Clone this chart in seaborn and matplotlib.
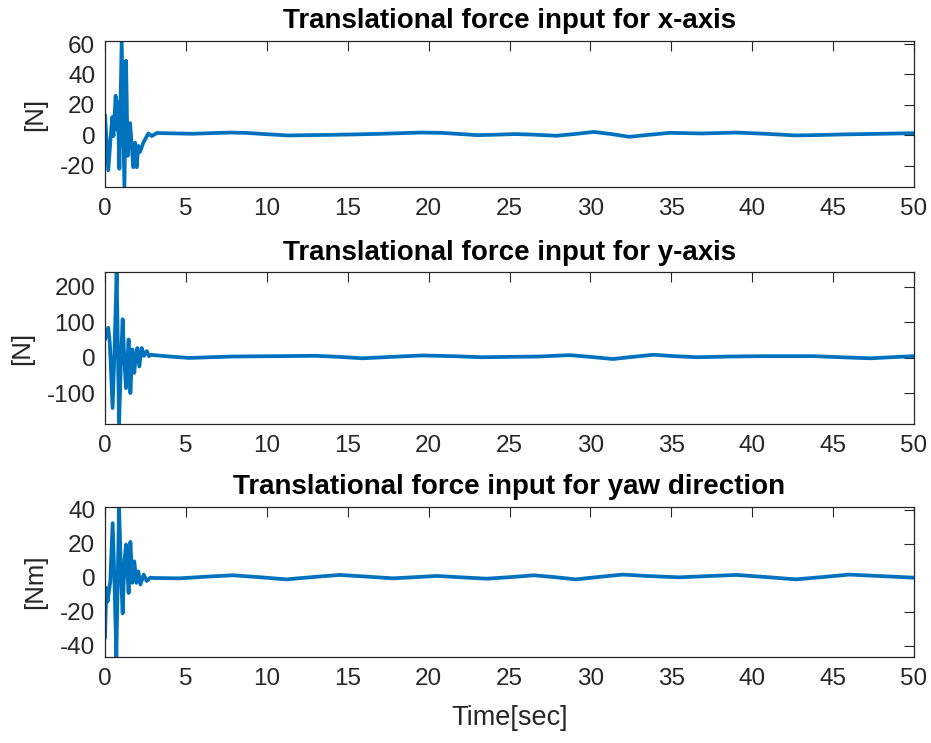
import numpy as np
import pandas as pd
import matplotlib
matplotlib.use("Agg")
import matplotlib.pyplot as plt
import seaborn as sns

# ---- data ----
tx = [0, 0.2, 0.37, 0.45, 0.52, 0.66, 0.74, 0.78, 0.89, 1.03, 1.2, 1.3, 1.4, 1.55,
      1.75, 1.86, 1.96, 2.06, 2.16, 2.37, 2.68, 2.89, 3.2, 4.0, 5.4, 6.5, 7.7, 8.7,
      10.0, 11.3, 12.5, 14.0, 15.5, 17.1, 18.3, 19.5, 20.8, 22.0, 23.0, 24.2, 25.3,
      26.3, 27.9, 29.0, 30.2, 31.3, 32.4, 33.6, 34.9, 36.0, 36.9, 38.0, 39.0, 40.8,
      42.7, 44.2, 45.8, 48.0, 50.0]
fx = [13.4, -23, 1.6, 12, -0.5, 26, 3.7, 22, -22, 62, -34, 49, -13.5, 8,
      -21, -4.8, -21, -7, -11, -4.8, 1.2, -0.5, 1.5, 1.3, 1.0, 1.4, 1.8, 1.6,
      0.7, -0.1, 0.1, 0.3, 0.6, 1.0, 1.4, 1.8, 1.6, 0.8, 0.1, 0.4, 0.8,
      0.5, -0.3, 0.8, 2.2, 0.8, -1.0, 0.3, 1.6, 1.4, 1.2, 1.5, 1.8, 1.0,
      -0.1, 0.2, 0.6, 1.0, 1.4]

ty = [0, 0.2, 0.3, 0.47, 0.6, 0.72, 0.87, 0.98, 1.09, 1.2, 1.3, 1.38, 1.46, 1.57,
      1.69, 1.81, 1.9, 2.0, 2.12, 2.27, 2.41, 2.58, 2.72, 2.85, 3.0, 4.0, 5.2, 6.5,
      7.9, 10.5, 13.0, 14.5, 15.9, 17.7, 19.6, 21.5, 23.3, 25.0, 26.8, 28.7, 30.0,
      31.4, 32.6, 33.9, 35.2, 36.6, 38.5, 40.7, 43.8, 45.5, 47.3, 48.6, 50.0]
fy = [51, 84, 40, -142, 40, 238, -185, -20, 108, -10, -86, -20, 51, -100,
      23, -43, 5, 27, -25, 27, 5, 18, 4, 8, 7, 3, -1, 1,
      3, 4, 5, 2, -2, 2, 6, 4, 1, 2, 3, 7, 2,
      -4, 2, 8, 4, 1, 3, 4, 4, 1, -2, 1, 4]

tz = [0, 0.08, 0.16, 0.33, 0.47, 0.58, 0.7, 0.87, 0.98, 1.09, 1.2, 1.3, 1.38, 1.46,
      1.57, 1.69, 1.81, 1.94, 2.06, 2.19, 2.39, 2.58, 2.8, 3.0, 4.6, 6.3, 7.9, 9.5,
      11.2, 12.9, 14.5, 16.2, 17.8, 19.2, 20.5, 22.0, 23.6, 25.2, 26.5, 27.8, 29.1,
      30.6, 32.0, 33.7, 35.5, 37.2, 39.0, 40.8, 42.7, 44.4, 46.0, 48.0, 50.0]
fz = [-35.5, -6, -14, -2, 32, 0, -46.5, 41, 5, -21, 9.6, 19.4, 5, -9,
      21, -3, 9.6, -3, 3.7, -4, 1.8, -2, 0, -0.2, -0.4, 0.6, 1.4, 0.3,
      -1.0, 0.4, 1.6, 0.6, -0.4, 0.3, 1.0, 0.2, -0.6, 0.4, 1.4, 0.3, -1.0,
      0.5, 1.8, 0.9, 0.2, 0.9, 1.6, 0.4, -1.0, 0.4, 1.8, 0.9, 0.0]

titles = ["Translational force input for x-axis",
          "Translational force input for y-axis",
          "Translational force input for yaw direction"]
ylabels = ["[N]", "[N]", "[Nm]"]
yticks = [[-20, 0, 20, 40, 60], [-100, 0, 100, 200], [-40, -20, 0, 20, 40]]
ylims = [(-34, 62), (-187, 241), (-46.6, 41.5)]
xticks = list(range(0, 51, 5))

sns.set_theme(style="white")
plt.rcParams['font.family'] = ['Liberation Sans', 'DejaVu Sans']
plt.rcParams['axes.unicode_minus'] = False

fig = plt.figure(figsize=(9.31, 7.43), dpi=100)
W, H = 931, 743
boxes = [(41, 187), (272, 424), (507, 657)]
series = [(tx, fx), (ty, fy), (tz, fz)]
edge = "#262626"

for i, ((top, bot), (t, v)) in enumerate(zip(boxes, series)):
    ax = fig.add_axes([105 / W, 1 - bot / H, 809 / W, (bot - top) / H])
    df = pd.DataFrame({"t": t, "v": v})
    sns.lineplot(data=df, x="t", y="v", ax=ax, color="#0072BD", linewidth=2.7,
                 estimator=None, sort=False)
    ax.set_xlim(0, 50)
    ax.set_ylim(*ylims[i])
    ax.set_xticks(xticks)
    ax.set_yticks(yticks[i])
    ax.tick_params(direction="in", length=7, width=0.8, colors=edge,
                   labelsize=17.5, top=True, right=True,
                   labelcolor="#262626")
    ax.tick_params(axis="x", pad=8)
    ax.tick_params(axis="y", pad=7)
    for s in ax.spines.values():
        s.set_color(edge)
        s.set_linewidth(0.9)
    ax.set_title(titles[i], fontsize=20, fontweight="bold", color="black", pad=9)
    ax.set_ylabel(ylabels[i], fontsize=18.5, color="#262626", labelpad=9)
    if i == 2:
        ax.set_xlabel("Time[sec]", fontsize=19.5, color="#262626", labelpad=11)
    else:
        ax.set_xlabel("")

fig.savefig("out.png", dpi=100)
